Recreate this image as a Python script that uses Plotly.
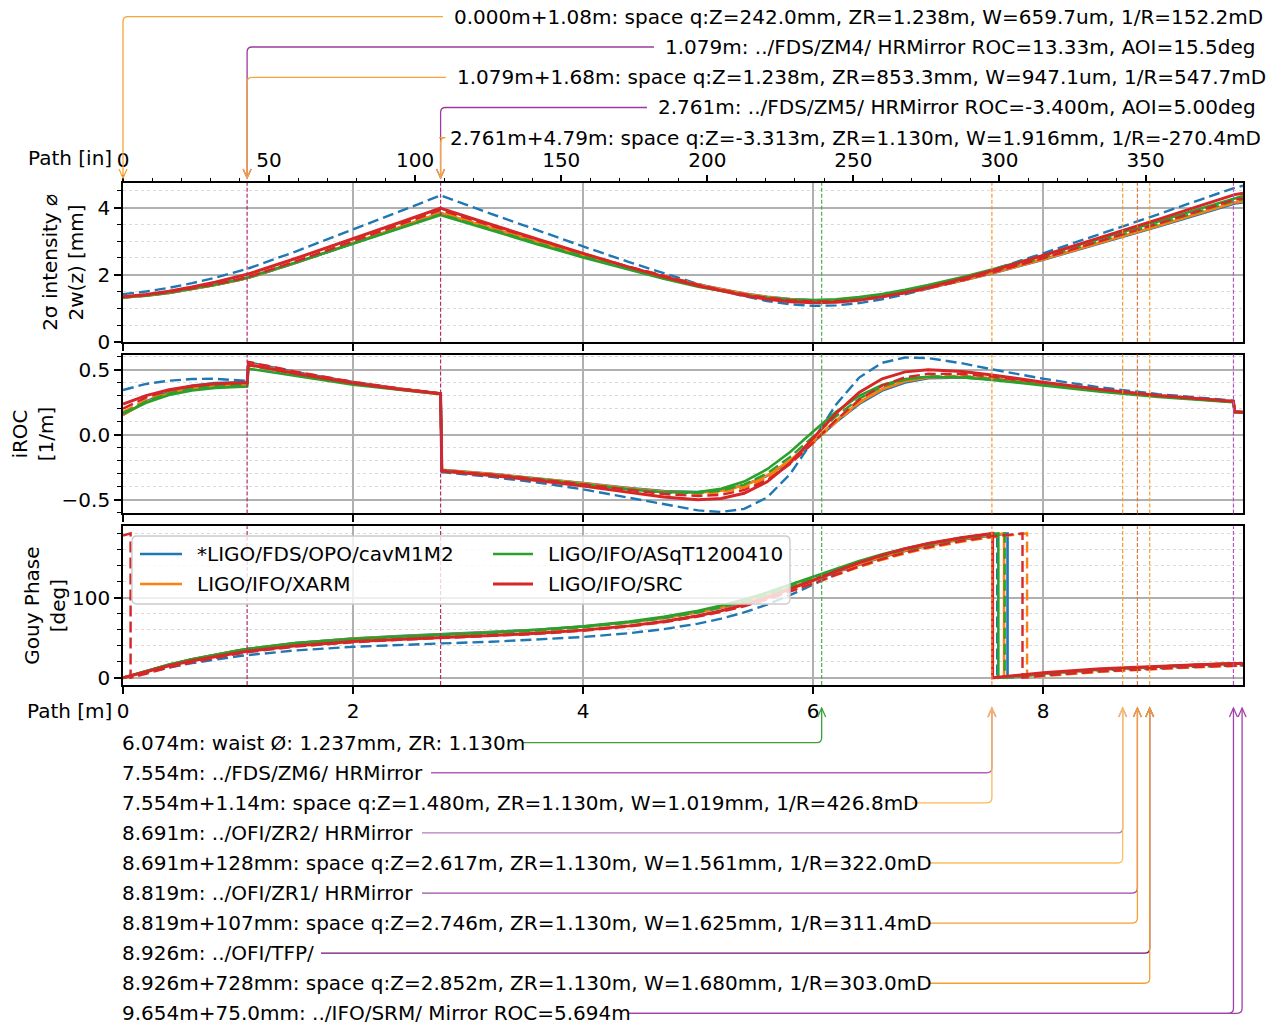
import plotly.graph_objects as go

# ---------------------------------------------------------------- data
# sample positions along the optical path [m]
PATH_M = [0.0, 0.2, 0.4, 0.6, 0.8, 1.0, 1.079,
          1.09, 1.5, 2.0, 2.4, 2.761,
          2.772, 3.2, 3.6, 4.0, 4.4, 4.7, 5.0, 5.2, 5.4, 5.6, 5.8, 6.0, 6.2,
          6.4, 6.6, 6.8, 7.0, 7.3, 7.554, 8.0, 8.5, 9.0, 9.4, 9.654,
          9.665, 9.737]
PATH_END_M = 9.737
INCH_M = 0.0254

SERIES_NAMES = ["*LIGO/FDS/OPO/cavM1M2", "LIGO/IFO/XARM",
                "LIGO/IFO/ASqT1200410", "LIGO/IFO/SRC"]
SERIES_COLORS = ["#1f77b4", "#ff7f0e", "#2ca02c", "#d62728"]

# beam diameter 2w(z) [mm]; *_X solid, *_Y dashed
DIAM_CAV_X = [1.319, 1.375, 1.459, 1.566, 1.693, 1.834, 1.894,
              1.906, 2.350, 2.925, 3.398, 3.832,
              3.820, 3.380, 2.977, 2.585, 2.211, 1.947, 1.707, 1.564, 1.440, 1.341, 1.273, 1.240,
              1.245, 1.287, 1.365, 1.470, 1.599, 1.825, 2.038, 2.445, 2.930, 3.434, 3.845, 4.110,
              4.118, 4.150]
DIAM_CAV_Y = [1.420, 1.499, 1.609, 1.746, 1.910, 2.093, 2.170,
              2.184, 2.688, 3.340, 3.874, 4.360,
              4.345, 3.814, 3.324, 2.842, 2.374, 2.038, 1.722, 1.529, 1.357, 1.216, 1.117, 1.072,
              1.086, 1.154, 1.268, 1.416, 1.588, 1.879, 2.144, 2.636, 3.210, 3.798, 4.275, 4.580,
              4.588, 4.650]
DIAM_XARM_X = [1.319, 1.375, 1.459, 1.566, 1.693, 1.834, 1.894,
               1.906, 2.357, 2.940, 3.410, 3.830,
               3.819, 3.377, 2.972, 2.578, 2.202, 1.937, 1.696, 1.553, 1.429, 1.331, 1.264, 1.233,
               1.241, 1.287, 1.367, 1.476, 1.608, 1.837, 2.053, 2.463, 2.952, 3.459, 3.873, 4.139,
               4.148, 4.180]
DIAM_XARM_Y = [1.325, 1.381, 1.466, 1.573, 1.701, 1.843, 1.903,
               1.915, 2.366, 2.958, 3.440, 3.875,
               3.868, 3.420, 3.010, 2.611, 2.228, 1.958, 1.710, 1.563, 1.435, 1.332, 1.259, 1.224,
               1.228, 1.271, 1.350, 1.459, 1.591, 1.823, 2.041, 2.455, 2.949, 3.462, 3.881, 4.149,
               4.158, 4.190]
DIAM_ASQ_X = [1.326, 1.383, 1.469, 1.579, 1.708, 1.852, 1.913,
              1.925, 2.362, 2.922, 3.370, 3.775,
              3.761, 3.316, 2.909, 2.515, 2.140, 1.879, 1.644, 1.508, 1.395, 1.309, 1.257, 1.244,
              1.269, 1.331, 1.426, 1.547, 1.689, 1.930, 2.153, 2.573, 3.071, 3.585, 4.004, 4.273,
              4.285, 4.340]
DIAM_ASQ_Y = [1.321, 1.377, 1.461, 1.568, 1.695, 1.836, 1.896,
              1.908, 2.356, 2.930, 3.400, 3.800,
              3.791, 3.347, 2.941, 2.546, 2.169, 1.905, 1.665, 1.524, 1.404, 1.311, 1.250, 1.226,
              1.242, 1.296, 1.383, 1.498, 1.635, 1.871, 2.091, 2.507, 3.001, 3.512, 3.929, 4.197,
              4.206, 4.245]
DIAM_SRC_X = [1.345, 1.412, 1.510, 1.632, 1.778, 1.939, 2.008,
              2.020, 2.482, 3.060, 3.545, 3.980,
              3.967, 3.494, 3.059, 2.634, 2.226, 1.937, 1.671, 1.513, 1.376, 1.267, 1.194, 1.165,
              1.181, 1.241, 1.340, 1.469, 1.622, 1.882, 2.122, 2.572, 3.102, 3.648, 4.092, 4.376,
              4.385, 4.425]
DIAM_SRC_Y = [1.339, 1.396, 1.481, 1.589, 1.718, 1.862, 1.922,
              1.936, 2.395, 2.989, 3.480, 3.925,
              3.915, 3.458, 3.038, 2.628, 2.235, 1.958, 1.702, 1.550, 1.417, 1.310, 1.236, 1.201,
              1.207, 1.255, 1.339, 1.455, 1.594, 1.835, 2.061, 2.489, 2.996, 3.522, 3.950, 4.224,
              4.233, 4.270]

# inverse radius of curvature [1/m]
IROC_CAV_X = [0.152, 0.256, 0.330, 0.376, 0.398, 0.404, 0.403,
              0.546, 0.477, 0.401, 0.352, 0.316,
              -0.271, -0.301, -0.334, -0.372, -0.410, -0.434, -0.442, -0.428, -0.389, -0.316,
              -0.203, -0.058, 0.098, 0.236, 0.339, 0.402, 0.434, 0.441, 0.427, 0.386, 0.339,
              0.297, 0.270, 0.254,
              0.175, 0.172]
IROC_CAV_Y = [0.343, 0.390, 0.415, 0.428, 0.430, 0.420, 0.413,
              0.557, 0.482, 0.405, 0.355, 0.317,
              -0.288, -0.325, -0.368, -0.421, -0.485, -0.538, -0.583, -0.595, -0.571, -0.483,
              -0.303, -0.042, 0.232, 0.439, 0.553, 0.593, 0.589, 0.548, 0.503, 0.430, 0.363,
              0.312, 0.279, 0.262,
              0.178, 0.175]
IROC_XARM_X = [0.152, 0.250, 0.318, 0.358, 0.378, 0.385, 0.386,
               0.546, 0.474, 0.400, 0.352, 0.315,
               -0.273, -0.303, -0.337, -0.375, -0.414, -0.438, -0.446, -0.431, -0.391, -0.314,
               -0.197, -0.048, 0.110, 0.248, 0.349, 0.411, 0.440, 0.444, 0.429, 0.387, 0.339,
               0.297, 0.269, 0.254,
               0.175, 0.172]
IROC_XARM_Y = [0.175, 0.265, 0.325, 0.362, 0.382, 0.390, 0.391,
               0.553, 0.480, 0.403, 0.354, 0.316,
               -0.272, -0.303, -0.337, -0.376, -0.417, -0.443, -0.455, -0.444, -0.407, -0.333,
               -0.217, -0.066, 0.098, 0.244, 0.351, 0.417, 0.447, 0.452, 0.436, 0.392, 0.343,
               0.300, 0.271, 0.256,
               0.176, 0.173]
IROC_ASQ_X = [0.160, 0.245, 0.305, 0.340, 0.360, 0.368, 0.370,
              0.508, 0.450, 0.385, 0.345, 0.312,
              -0.279, -0.310, -0.345, -0.384, -0.422, -0.443, -0.442, -0.417, -0.361, -0.266,
              -0.133, 0.024, 0.176, 0.299, 0.382, 0.427, 0.445, 0.440, 0.421, 0.378, 0.331,
              0.290, 0.264, 0.249,
              0.172, 0.168]
IROC_ASQ_Y = [0.165, 0.255, 0.318, 0.355, 0.376, 0.383, 0.384,
              0.535, 0.466, 0.395, 0.350, 0.314,
              -0.276, -0.307, -0.341, -0.380, -0.420, -0.444, -0.449, -0.431, -0.384, -0.298,
              -0.172, -0.016, 0.142, 0.276, 0.370, 0.424, 0.447, 0.446, 0.428, 0.384, 0.336,
              0.295, 0.267, 0.252,
              0.174, 0.171]
IROC_SRC_X = [0.235, 0.300, 0.345, 0.375, 0.392, 0.400, 0.401,
              0.538, 0.470, 0.397, 0.350, 0.315,
              -0.281, -0.314, -0.352, -0.396, -0.446, -0.480, -0.500, -0.491, -0.451, -0.363,
              -0.218, -0.030, 0.165, 0.325, 0.430, 0.483, 0.500, 0.486, 0.459, 0.404, 0.348,
              0.302, 0.273, 0.256,
              0.176, 0.173]
IROC_SRC_Y = [0.200, 0.285, 0.340, 0.372, 0.390, 0.398, 0.399,
              0.560, 0.485, 0.406, 0.356, 0.318,
              -0.275, -0.307, -0.342, -0.383, -0.427, -0.457, -0.472, -0.463, -0.426, -0.350,
              -0.226, -0.062, 0.114, 0.268, 0.377, 0.441, 0.468, 0.467, 0.446, 0.398, 0.346,
              0.302, 0.273, 0.257,
              0.176, 0.173]

# accumulated Gouy phase [deg], folded into 0..180
GOUY_CAV_X = [0.0, 8.59, 16.35, 23.16, 29.03, 34.03, 35.80,
              36.03, 43.15, 48.80, 51.93, 54.08,
              54.14, 56.72, 59.80, 63.84, 69.27, 74.69, 81.72, 87.53, 94.43, 102.49, 111.62,
              121.50, 131.61, 141.34, 150.21, 157.97, 164.58, 172.58, 177.89, 4.85, 10.28,
              14.13, 16.49, 17.73,
              17.76, 17.95]
GOUY_CAV_Y = [0.0, 6.77, 12.88, 18.25, 22.87, 26.81, 28.20,
              28.38, 34.08, 38.60, 41.10, 42.80,
              42.85, 44.87, 47.41, 50.82, 55.60, 60.62, 67.54, 73.68, 81.47, 91.23, 103.03,
              116.29, 129.78, 142.12, 152.50, 160.85, 167.45, 174.86, 179.48, 5.25, 9.56,
              12.55, 14.34, 15.29,
              15.32, 15.50]
GOUY_XARM_X = [0.0, 8.60, 16.30, 23.10, 29.00, 34.00, 35.80,
               36.00, 43.10, 48.80, 51.90, 53.95,
               53.98, 56.55, 59.65, 63.70, 69.18, 74.64, 81.75, 87.65, 94.66, 102.84, 112.10,
               122.10, 132.30, 142.06, 150.91, 158.62, 165.18, 173.08, 178.31, 5.17, 10.51,
               14.32, 16.63, 17.86,
               17.89, 18.07]
GOUY_XARM_Y = [0.0, 8.10, 15.40, 21.80, 27.30, 32.00, 33.70,
               33.90, 40.80, 46.00, 48.80, 50.22,
               50.25, 52.76, 55.78, 59.73, 65.07, 70.42, 77.38, 83.20, 90.14, 98.28, 107.58,
               117.70, 128.09, 138.08, 147.16, 155.07, 161.77, 169.82, 175.13, 2.05, 7.42,
               11.22, 13.53, 14.75,
               14.78, 14.95]
GOUY_ASQ_X = [0.0, 8.60, 16.40, 23.20, 29.10, 34.10, 35.90,
              36.10, 43.20, 48.70, 51.80, 53.78,
              53.80, 56.52, 59.79, 64.12, 70.00, 75.91, 83.61, 89.99, 97.53, 106.22, 115.87,
              126.03, 136.11, 145.50, 153.86, 161.04, 167.10, 174.40, 179.24, 5.61, 10.62,
              14.21, 16.42, 17.59,
              17.62, 17.80]
GOUY_ASQ_Y = [0.0, 8.50, 16.10, 22.80, 28.60, 33.50, 35.30,
              35.50, 42.40, 47.80, 50.90, 53.10,
              53.12, 55.74, 58.89, 63.04, 68.67, 74.31, 81.67, 87.80, 95.06, 103.52, 113.04,
              123.22, 133.46, 143.15, 151.84, 159.35, 165.69, 173.32, 178.36, 4.97, 10.14,
              13.82, 16.07, 17.27,
              17.30, 17.48]
GOUY_SRC_X = [0.0, 7.90, 15.00, 21.30, 26.70, 31.30, 33.00,
              33.20, 39.90, 45.20, 48.20, 50.20,
              50.23, 52.63, 55.54, 59.40, 64.70, 70.11, 77.32, 83.48, 90.96, 99.90, 110.22,
              121.45, 132.82, 143.47, 152.85, 160.77, 167.30, 174.95, 179.90, 6.25, 11.13,
              14.56, 16.64, 17.74,
              17.77, 17.95]
GOUY_SRC_Y = [177.40, 5.20, 12.70, 19.30, 25.10, 30.00, 31.80,
              32.02, 38.83, 44.24, 47.24, 49.30,
              49.32, 51.77, 54.72, 58.62, 63.90, 69.23, 76.23, 82.12, 89.21, 97.59, 107.21,
              117.72, 128.49, 138.79, 148.07, 156.05, 162.76, 170.75, 175.96, 2.73, 7.93,
              11.61, 13.84, 15.02,
              15.05, 15.20]

# path positions where the folded Gouy phase passes 180 deg
GOUY_WRAP_CAV_X = [7.69]
GOUY_WRAP_CAV_Y = [7.60]
GOUY_WRAP_XARM_X = [7.66]
GOUY_WRAP_XARM_Y = [7.86]
GOUY_WRAP_ASQ_X = [7.61]
GOUY_WRAP_ASQ_Y = [7.665]
GOUY_WRAP_SRC_X = [7.56]
GOUY_WRAP_SRC_Y = [0.066, 7.82]

# optical elements along the path
ELEMENT_M = [1.079, 2.761, 6.074, 7.554, 8.691, 8.819, 8.926, 9.654]
ELEMENT_COLORS = ["#b12c6a", "#b12c6a", "#4caf50", "#f39a2e",
                  "#f39a2e", "#e0783a", "#f5a030", "#b455c4"]

TOP_NOTES = [
    "0.000m+1.08m: space q:Z=242.0mm, ZR=1.238m, W=659.7um, 1/R=152.2mD",
    "1.079m: ../FDS/ZM4/ HRMirror ROC=13.33m, AOI=15.5deg",
    "1.079m+1.68m: space q:Z=1.238m, ZR=853.3mm, W=947.1um, 1/R=547.7mD",
    "2.761m: ../FDS/ZM5/ HRMirror ROC=-3.400m, AOI=5.00deg",
    "2.761m+4.79m: space q:Z=-3.313m, ZR=1.130m, W=1.916mm, 1/R=-270.4mD",
]
TOP_NOTE_AT_M = [0.0, 1.079, 1.079, 2.761, 2.761]

BOTTOM_NOTES = [
    "6.074m: waist Ø: 1.237mm, ZR: 1.130m",
    "7.554m: ../FDS/ZM6/ HRMirror",
    "7.554m+1.14m: space q:Z=1.480m, ZR=1.130m, W=1.019mm, 1/R=426.8mD",
    "8.691m: ../OFI/ZR2/ HRMirror",
    "8.691m+128mm: space q:Z=2.617m, ZR=1.130m, W=1.561mm, 1/R=322.0mD",
    "8.819m: ../OFI/ZR1/ HRMirror",
    "8.819m+107mm: space q:Z=2.746m, ZR=1.130m, W=1.625mm, 1/R=311.4mD",
    "8.926m: ../OFI/TFP/",
    "8.926m+728mm: space q:Z=2.852m, ZR=1.130m, W=1.680mm, 1/R=303.0mD",
    "9.654m+75.0mm: ../IFO/SRM/ Mirror ROC=5.694m",
]
BOTTOM_NOTE_AT_M = [[6.074], [7.554], [7.554], [8.691], [8.691], [8.819], [8.819],
                    [8.926], [8.926], [9.654, 9.729]]

# ---------------------------------------------------------------- layout geometry
FONT = "DejaVu Sans"
FIG_W, FIG_H = 1268, 1024
L_PX, R_PX, T_PX, B_PX = 123, 1243, 183, 685
PW, PH = R_PX - L_PX, B_PX - T_PX

SPACE_CLR = "#f6a536"
MIRROR_CLR = "#9a3b9e"


def xp(px):
    return (px - L_PX) / PW


def yp(py):
    return (B_PX - py) / PH


def data_px(xm):
    return L_PX + xm / PATH_END_M * PW


def P(px, py):
    return f"{xp(px):.5f},{yp(py):.5f}"


def fold_points(xs, ys, wraps):
    """Insert the vertical 180->0 step of the folded phase."""
    out_x, out_y = [], []
    pending = list(wraps)
    for xv, yv in zip(xs, ys):
        while pending and pending[0] < xv:
            w = pending.pop(0)
            out_x += [w, w]
            out_y += [180.0, 0.0]
        out_x.append(xv)
        out_y.append(yv)
    return out_x, out_y


fig = go.Figure()

diam = [(DIAM_CAV_X, DIAM_CAV_Y), (DIAM_XARM_X, DIAM_XARM_Y),
        (DIAM_ASQ_X, DIAM_ASQ_Y), (DIAM_SRC_X, DIAM_SRC_Y)]
iroc = [(IROC_CAV_X, IROC_CAV_Y), (IROC_XARM_X, IROC_XARM_Y),
        (IROC_ASQ_X, IROC_ASQ_Y), (IROC_SRC_X, IROC_SRC_Y)]
gouy = [(GOUY_CAV_X, GOUY_CAV_Y), (GOUY_XARM_X, GOUY_XARM_Y),
        (GOUY_ASQ_X, GOUY_ASQ_Y), (GOUY_SRC_X, GOUY_SRC_Y)]
wraps = [(GOUY_WRAP_CAV_X, GOUY_WRAP_CAV_Y), (GOUY_WRAP_XARM_X, GOUY_WRAP_XARM_Y),
         (GOUY_WRAP_ASQ_X, GOUY_WRAP_ASQ_Y), (GOUY_WRAP_SRC_X, GOUY_WRAP_SRC_Y)]
line_w = [2.6, 2.6, 2.6, 3.0]

for i, (name, clr) in enumerate(zip(SERIES_NAMES, SERIES_COLORS)):
    for k, dash in enumerate(["solid", "11px,5px"]):
        line = dict(color=clr, width=line_w[i] if k == 0 else 2.4, dash=dash)
        # beam diameter (top)
        fig.add_trace(go.Scatter(x=PATH_M, y=diam[i][k], mode="lines", line=line,
                                 name=name, xaxis="x3", yaxis="y3", showlegend=False,
                                 hoverinfo="skip"))
        # inverse ROC (middle)
        fig.add_trace(go.Scatter(x=PATH_M, y=iroc[i][k], mode="lines", line=line,
                                 name=name, xaxis="x2", yaxis="y2", showlegend=False,
                                 hoverinfo="skip"))
        # Gouy phase (bottom)
        gx, gy = fold_points(PATH_M, gouy[i][k], wraps[i][k])
        fig.add_trace(go.Scatter(x=gx, y=gy, mode="lines", line=line, name=name,
                                 xaxis="x", yaxis="y", hoverinfo="skip",
                                 showlegend=False))

# carrier for the inch axis on top
fig.add_trace(go.Scatter(x=[0], y=[None], xaxis="x4", yaxis="y3", showlegend=False,
                         hoverinfo="skip", mode="markers", marker=dict(opacity=0)))

tick_font = dict(family=FONT, size=20, color="black")
x_common = dict(range=[0, PATH_END_M], showline=True, linecolor="black", linewidth=1.6,
                mirror=True, ticks="outside", ticklen=7, tickwidth=1.6, tickcolor="black",
                tick0=0, dtick=2, showgrid=True, gridcolor="#b0b0b0", gridwidth=1.6,
                zeroline=False, tickfont=tick_font)
y_common = dict(showline=True, linecolor="black", linewidth=1.6, mirror=True,
                ticks="outside", ticklen=7, tickwidth=1.6, tickcolor="black",
                showgrid=True, gridcolor="#b0b0b0", gridwidth=1.6, zeroline=False,
                tickfont=tick_font)


def minor(step):
    return dict(dtick=step, ticks="outside", ticklen=4, tickwidth=1.2, tickcolor="black",
                showgrid=True, gridcolor="#dadada", griddash="dot", gridwidth=1)


title_font = dict(family=FONT, size=20, color="black")
fig.update_layout(
    width=FIG_W, height=FIG_H,
    margin=dict(l=L_PX, r=FIG_W - R_PX, t=T_PX, b=FIG_H - B_PX, autoexpand=False),
    paper_bgcolor="white", plot_bgcolor="white",
    font=dict(family=FONT, size=20, color="black"),
    hovermode=False, showlegend=False,
    xaxis=dict(x_common, anchor="y", domain=[0, 1]),
    xaxis2=dict(x_common, anchor="y2", matches="x", showticklabels=False),
    xaxis3=dict(x_common, anchor="y3", matches="x", showticklabels=False),
    xaxis4=dict(overlaying="x3", anchor="y3", side="top",
                range=[0, PATH_END_M / INCH_M], tick0=0, dtick=50,
                ticks="outside", ticklen=7, tickwidth=1.6, tickcolor="black",
                minor=dict(dtick=10, ticks="outside", ticklen=4, tickwidth=1.2,
                           tickcolor="black", showgrid=False),
                showgrid=False, showline=False, zeroline=False, tickfont=tick_font),
    yaxis3=dict(y_common, domain=[0.6836, 1.0], anchor="x3", range=[0, 4.73],
                tick0=0, dtick=2, minor=minor(0.5),
                title=dict(text="2σ intensity ⌀<br>2w(z) [mm]", font=title_font,
                           standoff=8)),
    yaxis2=dict(y_common, domain=[0.3418, 0.6582], anchor="x2", range=[-0.606, 0.616],
                tick0=0, dtick=0.5, tickformat=".1f", minor=minor(0.1),
                title=dict(text="iROC<br>[1/m]", font=title_font, standoff=3)),
    yaxis=dict(y_common, domain=[0, 0.3164], anchor="x", range=[-9, 189],
               tick0=0, dtick=100, minor=minor(20),
               title=dict(text="Gouy Phase<br>[deg]", font=title_font, standoff=1)),
)

shapes = []
annotations = []

# element positions as dashed verticals in every panel
for xm, clr in zip(ELEMENT_M, ELEMENT_COLORS):
    for xr, yr in [("x", "y domain"), ("x2", "y2 domain"), ("x3", "y3 domain")]:
        shapes.append(dict(type="line", xref=xr, yref=yr, x0=xm, x1=xm, y0=0, y1=1,
                           line=dict(color=clr, width=1.2, dash="4px,2px"),
                           layer="above"))

# legend: rounded translucent frame, two columns of line samples and names
bx0, by0, bx1, by1, br = 132, 536, 790, 604, 5
frame = (f"M {P(bx0 + br, by0)} L {P(bx1 - br, by0)} Q {P(bx1, by0)} {P(bx1, by0 + br)} "
         f"L {P(bx1, by1 - br)} Q {P(bx1, by1)} {P(bx1 - br, by1)} "
         f"L {P(bx0 + br, by1)} Q {P(bx0, by1)} {P(bx0, by1 - br)} "
         f"L {P(bx0, by0 + br)} Q {P(bx0, by0)} {P(bx0 + br, by0)} Z")
shapes.append(dict(type="path", xref="paper", yref="paper", path=frame,
                   fillcolor="rgba(255,255,255,0.8)",
                   line=dict(color="#cccccc", width=1.4), layer="above"))
leg_cols = [(140, 182, 197), (140, 182, 197), (493, 533, 548), (493, 533, 548)]
leg_rows = [554, 584, 554, 584]
for name, clr, lw, (l0, l1, tx), row in zip(SERIES_NAMES, SERIES_COLORS, line_w,
                                             leg_cols, leg_rows):
    shapes.append(dict(type="line", xref="paper", yref="paper",
                       x0=xp(l0), x1=xp(l1), y0=yp(row), y1=yp(row),
                       line=dict(color=clr, width=lw), layer="above"))
    annotations.append(dict(text=name, xref="paper", yref="paper", x=xp(tx - 2),
                            y=yp(row), xanchor="left", yanchor="middle", showarrow=False,
                            font=dict(family=FONT, size=20, color="black")))

RAD = 5

# upper annotations: text on the left, leader runs left then down to the axis
top_rows = [16.7, 47.0, 77.3, 107.5, 137.7]
top_text_px = [455, 666, 458, 659, 451]
top_colors = [SPACE_CLR, MIRROR_CLR, SPACE_CLR, MIRROR_CLR, SPACE_CLR]
TOP_TIP = 178
for text, xm, row, tx, clr in zip(TOP_NOTES, TOP_NOTE_AT_M, top_rows, top_text_px,
                                  top_colors):
    ax = data_px(xm)
    sx = tx - 12
    path = (f"M {P(sx, row)} L {P(ax + RAD, row)} Q {P(ax, row)} {P(ax, row + RAD)} "
            f"L {P(ax, TOP_TIP)}")
    shapes.append(dict(type="path", xref="paper", yref="paper", path=path,
                       line=dict(color=clr, width=1.3)))
    head = f"M {P(ax - 4, TOP_TIP - 9)} L {P(ax, TOP_TIP)} L {P(ax + 4, TOP_TIP - 9)}"
    shapes.append(dict(type="path", xref="paper", yref="paper", path=head,
                       line=dict(color=clr, width=1.3)))
    annotations.append(dict(text=text, xref="paper", yref="paper", x=xp(tx - 3),
                            y=yp(row), xanchor="left", yanchor="middle", showarrow=False,
                            font=dict(family=FONT, size=20, color="black")))

# lower annotations: text on the left, leader runs right then up to the axis
bot_rows = [742.7 + 30.07 * k for k in range(len(BOTTOM_NOTES))]
bot_line_px = [523, 431, 912, 422, 930, 422, 930, 321, 930, 628]
bot_colors = ["#3c9f3c", "#b062b8", "#fbb955", "#b878c0", "#fbbf5f",
              "#9c4aa6", "#f5a030", "#701070", "#f5a030", "#a040a8"]
BOT_TIP = 708
for text, xms, row, sx, clr in zip(BOTTOM_NOTES, BOTTOM_NOTE_AT_M, bot_rows, bot_line_px,
                                   bot_colors):
    for xm in xms:
        ax = data_px(xm)
        path = (f"M {P(sx, row)} L {P(ax - RAD, row)} Q {P(ax, row)} {P(ax, row - RAD)} "
                f"L {P(ax, BOT_TIP)}")
        shapes.append(dict(type="path", xref="paper", yref="paper", path=path,
                           line=dict(color=clr, width=1.3)))
        head = f"M {P(ax - 4, BOT_TIP + 9)} L {P(ax, BOT_TIP)} L {P(ax + 4, BOT_TIP + 9)}"
        shapes.append(dict(type="path", xref="paper", yref="paper", path=head,
                           line=dict(color=clr, width=1.3)))
    annotations.append(dict(text=text, xref="paper", yref="paper", x=xp(L_PX - 3),
                            y=yp(row), xanchor="left", yanchor="middle", showarrow=False,
                            font=dict(family=FONT, size=20, color="black")))

# axis captions next to the tick labels
annotations.append(dict(text="Path [in]", xref="paper", yref="paper", x=xp(114),
                        y=yp(158), xanchor="right", yanchor="middle", showarrow=False,
                        font=dict(family=FONT, size=20, color="black")))
annotations.append(dict(text="Path [m]", xref="paper", yref="paper", x=xp(114),
                        y=yp(711), xanchor="right", yanchor="middle", showarrow=False,
                        font=dict(family=FONT, size=20, color="black")))

fig.update_layout(shapes=shapes, annotations=annotations)
fig.write_html("out.html", config={"displayModeBar": False})
